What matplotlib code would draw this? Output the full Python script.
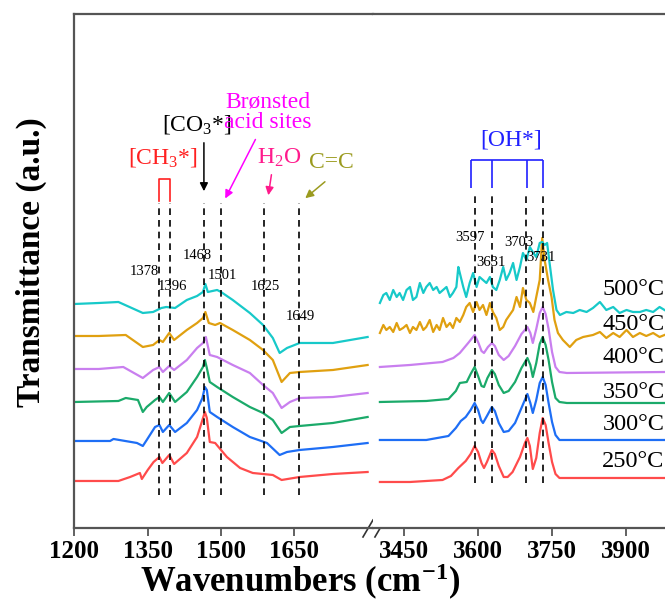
import matplotlib.pyplot as plt

plt.rcParams['font.family'] = 'Liberation Serif'
plt.rcParams['mathtext.fontset'] = 'custom'
plt.rcParams['mathtext.rm'] = 'Liberation Serif'
plt.rcParams['mathtext.bf'] = 'Liberation Serif:bold'
plt.rcParams['mathtext.it'] = 'Liberation Serif:italic'

temps = ['250°C', '300°C', '350°C', '400°C', '450°C', '500°C']
colors = ['#ff4b4b', '#1e6ef5', '#1baa6a', '#c97fef', '#e0a010', '#17c9c9']
temp_label_y = [66, 103, 135, 170, 203, 238]

# 1200-1800 cm-1 region
wn_l_250 = [1200, 1250, 1290, 1314, 1334, 1338, 1350, 1362, 1374, 1380, 1394, 1404, 1430, 1451, 1460,
            1467, 1471, 1477, 1488, 1512, 1539, 1565, 1606, 1624, 1661, 1729, 1800]
t_l_250 = [47, 47, 47, 51, 55, 49, 58, 66, 71, 65, 73, 64, 75, 91, 105,
           116, 110, 86, 85, 71, 60, 55, 53, 48, 51, 54, 56]
wn_l_300 = [1200, 1273, 1280, 1328, 1340, 1348, 1365, 1374, 1381, 1394, 1406, 1430, 1451, 1462,
            1467, 1471, 1477, 1492, 1524, 1559, 1594, 1620, 1635, 1661, 1729, 1800]
t_l_300 = [87, 87, 89, 85, 82, 88, 101, 103, 96, 103, 96, 105, 118, 130,
           141, 138, 116, 111, 101, 91, 85, 73, 76, 78, 81, 85]
wn_l_350 = [1200, 1290, 1305, 1330, 1340, 1348, 1365, 1374, 1381, 1394, 1406, 1430, 1451, 1463,
            1467, 1471, 1477, 1492, 1524, 1559, 1586, 1606, 1624, 1641, 1661, 1729, 1800]
t_l_350 = [126, 127, 130, 128, 116, 121, 128, 131, 126, 135, 126, 136, 151, 161,
           168, 160, 146, 141, 131, 121, 115, 108, 95, 101, 102, 105, 111]
wn_l_400 = [1200, 1250, 1300, 1340, 1361, 1374, 1381, 1394, 1404, 1430, 1451, 1463,
            1469, 1477, 1492, 1524, 1559, 1586, 1606, 1624, 1641, 1661, 1729, 1800]
t_l_400 = [159, 159, 161, 150, 158, 161, 156, 162, 158, 168, 180, 185,
           191, 173, 171, 163, 155, 143, 135, 120, 126, 130, 131, 135]
wn_l_450 = [1200, 1250, 1305, 1340, 1361, 1374, 1381, 1394, 1404, 1430, 1451, 1463, 1468,
            1475, 1488, 1498, 1524, 1559, 1586, 1606, 1624, 1641, 1661, 1729, 1800]
t_l_450 = [192, 192, 193, 181, 183, 188, 186, 195, 188, 198, 205, 210, 216,
           205, 203, 205, 198, 188, 178, 168, 146, 155, 156, 158, 163]
wn_l_500 = [1200, 1250, 1290, 1340, 1361, 1378, 1388, 1406, 1430, 1451, 1463, 1468,
            1473, 1492, 1500, 1524, 1559, 1586, 1606, 1620, 1635, 1661, 1729, 1800]
t_l_500 = [224, 225, 226, 215, 216, 220, 221, 220, 228, 232, 236, 244,
           236, 238, 236, 228, 215, 203, 190, 175, 180, 185, 185, 191]

# 3400-3980 cm-1 region
wn_r_250 = [3401, 3462, 3528, 3545, 3560, 3575, 3585, 3593, 3600, 3607, 3612, 3618, 3628, 3634,
            3642, 3652, 3660, 3670, 3685, 3695, 3700, 3705, 3711, 3718, 3725, 3731, 3737, 3743,
            3750, 3757, 3765, 3780, 3980]
t_r_250 = [46, 46, 48, 52, 60, 67, 74, 82, 76, 65, 60, 66, 78, 74,
           62, 51, 51, 56, 71, 85, 90, 82, 59, 70, 95, 110, 103, 85,
           66, 54, 50, 50, 50]
wn_r_300 = [3401, 3495, 3540, 3555, 3565, 3575, 3585, 3593, 3600, 3606, 3610, 3618, 3628, 3634,
            3642, 3652, 3662, 3675, 3688, 3700, 3706, 3711, 3718, 3725, 3731, 3737, 3743, 3750,
            3757, 3765, 3780, 3980]
t_r_300 = [88, 88, 92, 100, 107, 111, 118, 125, 118, 108, 105, 112, 121, 117,
           105, 96, 97, 105, 120, 134, 125, 115, 128, 145, 151, 143, 125, 106,
           93, 88, 88, 88]
wn_r_350 = [3401, 3495, 3540, 3555, 3563, 3577, 3585, 3593, 3600, 3607, 3612, 3619, 3628, 3634,
            3642, 3652, 3662, 3675, 3688, 3700, 3706, 3711, 3718, 3725, 3731, 3737, 3743, 3750,
            3757, 3765, 3780, 3980]
t_r_350 = [126, 127, 129, 137, 145, 146, 154, 161, 152, 142, 141, 150, 158, 154,
           143, 135, 137, 146, 160, 170, 163, 151, 165, 184, 191, 183, 168, 146,
           130, 126, 125, 125]
wn_r_400 = [3401, 3462, 3528, 3550, 3563, 3580, 3593, 3600, 3607, 3612, 3620, 3628, 3634, 3642,
            3652, 3662, 3675, 3688, 3700, 3706, 3711, 3718, 3725, 3731, 3737, 3743, 3750, 3757,
            3765, 3780, 3980]
t_r_400 = [161, 163, 166, 170, 175, 185, 193, 186, 177, 175, 181, 185, 182, 173,
           168, 172, 182, 194, 201, 195, 185, 199, 215, 221, 214, 199, 176, 161,
           156, 155, 156]
wn_r_450 = [3401, 3408, 3414, 3421, 3428, 3435, 3441, 3448, 3455, 3462, 3468, 3475, 3482, 3489,
            3495, 3502, 3509, 3516, 3522, 3529, 3536, 3543, 3549, 3556, 3563, 3570, 3576, 3583,
            3590, 3597, 3603, 3610, 3617, 3624, 3630, 3637, 3644, 3651, 3657, 3664, 3671, 3678,
            3685, 3691, 3698, 3705, 3712, 3718, 3725, 3730, 3735, 3742, 3749, 3755, 3762, 3772,
            3786, 3799, 3813, 3833, 3847, 3860, 3874, 3887, 3901, 3914, 3928, 3941, 3955, 3968, 3978]
t_r_450 = [195, 203, 198, 201, 196, 205, 198, 200, 203, 195, 201, 198, 206, 198,
           201, 208, 196, 203, 198, 210, 201, 205, 200, 210, 206, 213, 221, 225,
           216, 226, 218, 223, 213, 225, 216, 210, 198, 201, 208, 213, 218, 231,
           221, 240, 228, 225, 216, 231, 248, 290, 268, 248, 231, 208, 195, 188,
           181, 188, 191, 193, 196, 190, 195, 191, 198, 191, 195, 192, 195, 191, 193]
wn_r_500 = [3401, 3408, 3414, 3421, 3428, 3435, 3441, 3448, 3455, 3462, 3468, 3475, 3482, 3489,
            3495, 3502, 3509, 3516, 3522, 3529, 3536, 3543, 3549, 3556, 3560, 3563, 3570, 3576,
            3583, 3590, 3597, 3603, 3610, 3617, 3624, 3630, 3637, 3644, 3651, 3657, 3664, 3671,
            3678, 3685, 3691, 3698, 3705, 3712, 3718, 3725, 3730, 3735, 3740, 3745, 3752, 3759,
            3766, 3779, 3793, 3806, 3820, 3833, 3847, 3860, 3874, 3887, 3901, 3914, 3928, 3941,
            3955, 3968, 3978]
t_r_500 = [225, 233, 235, 228, 238, 231, 235, 228, 238, 241, 228, 231, 245, 235,
           241, 245, 238, 241, 235, 238, 241, 231, 235, 241, 261, 255, 241, 231,
           245, 255, 241, 251, 248, 245, 251, 241, 238, 248, 261, 248, 255, 265,
           248, 261, 275, 268, 281, 275, 271, 285, 286, 283, 285, 265, 238, 218,
           213, 216, 215, 218, 216, 220, 226, 218, 221, 215, 218, 216, 216, 218,
           216, 221, 218]

wn_left = [wn_l_250, wn_l_300, wn_l_350, wn_l_400, wn_l_450, wn_l_500]
t_left = [t_l_250, t_l_300, t_l_350, t_l_400, t_l_450, t_l_500]
wn_right = [wn_r_250, wn_r_300, wn_r_350, wn_r_400, wn_r_450, wn_r_500]
t_right = [t_r_250, t_r_300, t_r_350, t_r_400, t_r_450, t_r_500]

# peak markers: line position, printed label, label position
peak_pos_l = [1374, 1396, 1465, 1500, 1588, 1659]
peak_txt_l = ['1378', '1396', '1468', '1501', '1625', '1649']
peak_txt_l_x = [1344, 1400, 1451, 1502, 1590, 1662]
peak_txt_l_y = [256, 241, 272, 252, 241, 211]
peak_pos_r = [3593, 3628, 3698, 3731]
peak_txt_r = ['3597', '3631', '3703', '3731']
peak_txt_r_x = [3583, 3626, 3683, 3727]
peak_txt_r_y = [290, 265, 285, 270]
oh_bracket = [3586, 3629, 3699, 3732]

fig = plt.figure(figsize=(6.65, 6.03), dpi=100)
ax1 = fig.add_axes([0.1119, 0.1244, 0.449, 0.8524])
ax2 = fig.add_axes([0.5609, 0.1244, 0.4391, 0.8524])

for wn, t, c in zip(wn_left, t_left, colors):
    ax1.plot(wn, t, color=c, lw=1.6)
for wn, t, c in zip(wn_right, t_right, colors):
    ax2.plot(wn, t, color=c, lw=1.6)

ax1.set_xlim(1200, 1811)
ax2.set_xlim(3387, 3979)
for ax in (ax1, ax2):
    ax.set_ylim(0, 514)
    ax.set_yticks([])
    ax.tick_params(axis='x', direction='out', length=6, width=1.3, color='#555555', pad=3)
    for s in ax.spines.values():
        s.set_color('#555555')
        s.set_linewidth(1.6)
ax1.spines['right'].set_visible(False)
ax2.spines['left'].set_visible(False)
ax2.spines['right'].set_visible(False)
ax1.set_xticks([1200, 1350, 1500, 1650])
ax2.set_xticks([3450, 3600, 3750, 3900])
ax1.set_xticklabels(['1200', '1350', '1500', '1650'], fontsize=18, fontweight='bold')
ax2.set_xticklabels(['3450', '3600', '3750', '3900'], fontsize=18, fontweight='bold')

# break marks on the bottom axis
for dx in (0.0, 0.04):
    ax1.plot([0.9665 + dx, 1.0 + dx], [-0.0175, 0.0156], transform=ax1.transAxes,
             color='#333333', lw=1.2, clip_on=False)

dash = (0, (4, 3))
ax1.vlines(peak_pos_l, 33, 325, colors='black', linestyles=dash, lw=1.2)
ax2.vlines(peak_pos_r, 45, 333, colors='black', linestyles=dash, lw=1.2)
for x, y, s in zip(peak_txt_l_x, peak_txt_l_y, peak_txt_l):
    ax1.text(x, y, s, fontsize=10.5, ha='center', va='center')
for x, y, s in zip(peak_txt_r_x, peak_txt_r_y, peak_txt_r):
    ax2.text(x, y, s, fontsize=10.5, ha='center', va='center')

for s, y in zip(temps, temp_label_y):
    ax2.text(3852, y, s, fontsize=17.5, ha='left', va='center')

# annotations, left panel
ax1.text(1381, 370, '[CH$_3$*]', color='#ff2020', fontsize=17, ha='center', va='center')
ax1.plot([1374, 1374, 1396, 1396], [327, 349, 349, 327], color='#ff2020', lw=1.2)
ax1.text(1451, 403, '[CO$_3$*]', color='black', fontsize=17, ha='center', va='center')
ax1.annotate('', xy=(1465, 334), xytext=(1465, 388),
             arrowprops=dict(arrowstyle='-|>', color='black', lw=1.1, mutation_scale=12))
ax1.text(1596, 416, 'Brønsted\nacid sites', color='#ff00ff', fontsize=17, ha='center',
         va='center', linespacing=0.95)
ax1.annotate('', xy=(1506, 327), xytext=(1573, 391),
             arrowprops=dict(arrowstyle='-|>', color='#ff00ff', lw=1.1, mutation_scale=12))
ax1.text(1619, 370, 'H$_2$O', color='#ff1a8c', fontsize=17, ha='center', va='center')
ax1.annotate('', xy=(1596, 330), xytext=(1604, 356),
             arrowprops=dict(arrowstyle='-|>', color='#ff1a8c', lw=1.1, mutation_scale=12))
ax1.text(1725, 365, 'C=C', color='#9b9b1f', fontsize=17, ha='center', va='center')
ax1.annotate('', xy=(1668, 328), xytext=(1717, 348),
             arrowprops=dict(arrowstyle='-|>', color='#9b9b1f', lw=1.1, mutation_scale=12))

# OH bracket, right panel
ax2.text(3667, 388, '[OH*]', color='#2020ff', fontsize=17, ha='center', va='center')
ax2.hlines(368, oh_bracket[0], oh_bracket[-1], colors='#2020ff', lw=1.2)
ax2.vlines(oh_bracket, 340, 368, colors='#2020ff', lw=1.2)

fig.text(300 / 665, 1 - 582 / 603, r'Wavenumbers (cm$^{\mathbf{-1}}$)', fontsize=25,
         fontweight='bold', ha='center', va='center')
fig.text(31 / 665, 1 - 262 / 603, 'Transmittance (a.u.)', fontsize=24, fontweight='bold',
         rotation=90, ha='center', va='center')

fig.savefig('out.png', dpi=100)
